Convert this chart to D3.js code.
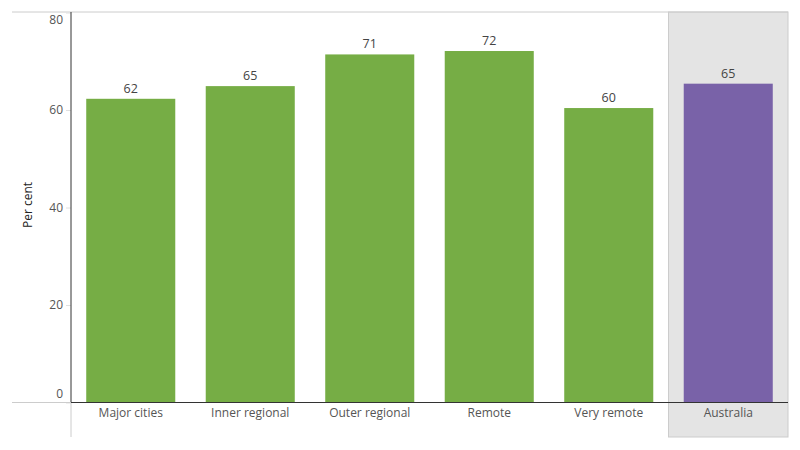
<!DOCTYPE html>
<html><head><meta charset="utf-8">
<script src="https://cdn.jsdelivr.net/npm/d3@7"></script>
<style>body{margin:0;background:#fff;}svg{display:block;font-family:"Open Sans","DejaVu Sans",sans-serif;}</style>
</head><body><svg id="c" width="800" height="450"></svg>
<script>
const categories = ["Major cities","Inner regional","Outer regional","Remote","Very remote","Australia"];
const values = [62.3, 64.9, 71.4, 72.1, 60.4, 65.4];
const yTicks = [0, 20, 40, 60, 80];
const colors = ["#76ad45","#76ad45","#76ad45","#76ad45","#76ad45","#7962a8"];

const svg = d3.select("#c");
const mLeft = 71, mRight = 788, mTop = 12.5, mBottom = 402.5;
const x = d3.scaleBand().domain(categories).range([mLeft, mRight]).paddingInner(0.255).paddingOuter(0.1275);
const y = d3.scaleLinear().domain([0, 80]).range([mBottom, mTop]);
const step = x.step();

// Australia panel background
const ausX = mLeft + step * 5;
svg.append("rect").attr("x", ausX).attr("y", 12).attr("width", mRight - ausX).attr("height", 437 - 12)
  .attr("fill", "#e4e4e4").attr("stroke", "#cccccc").attr("stroke-width", 1);

// top border
svg.append("line").attr("x1", 12).attr("x2", mRight).attr("y1", 12).attr("y2", 12).attr("stroke", "#cccccc");

// bars
svg.selectAll("rect.bar").data(categories).join("rect").attr("class","bar")
  .attr("x", d => x(d)).attr("width", x.bandwidth())
  .attr("y", (d,i) => y(values[i])).attr("height", (d,i) => y(0) - y(values[i]))
  .attr("fill", (d,i) => colors[i]);

// data labels
svg.selectAll("text.lab").data(categories).join("text").attr("class","lab")
  .attr("x", d => x(d) + x.bandwidth()/2).attr("y", (d,i) => y(values[i]) - 6)
  .attr("text-anchor","middle").attr("font-size", 12.5).attr("fill", "#444")
  .text((d,i) => Math.round(values[i]));

// y axis
const yAxis = d3.axisLeft(y).tickValues(yTicks).tickSize(5).tickPadding(3);
const gy = svg.append("g").attr("transform", `translate(${mLeft},0)`).call(yAxis);
gy.select(".domain").remove();
gy.selectAll(".tick line").attr("stroke", "#e0e0e0");
gy.selectAll(".tick text").attr("font-size", 12).attr("fill", "#555")
  .attr("font-family", "'Open Sans','DejaVu Sans',sans-serif")
  .attr("dy", d => d === 80 ? "0.9em" : d === 0 ? "-0.4em" : "0.32em");

// axis lines
svg.append("line").attr("x1", mLeft).attr("x2", mLeft).attr("y1", 12).attr("y2", mBottom).attr("stroke", "#333");
svg.append("line").attr("x1", mLeft).attr("x2", mLeft).attr("y1", mBottom).attr("y2", 437).attr("stroke", "#cccccc");
svg.append("line").attr("x1", 12).attr("x2", mLeft).attr("y1", mBottom).attr("y2", mBottom).attr("stroke", "#cccccc");
svg.append("line").attr("x1", mLeft).attr("x2", mRight).attr("y1", mBottom).attr("y2", mBottom).attr("stroke", "#333");

// x axis labels
const xAxis = d3.axisBottom(x).tickSize(0).tickPadding(6);
const gx = svg.append("g").attr("transform", `translate(0,${mBottom})`).call(xAxis);
gx.select(".domain").remove();
gx.selectAll(".tick text").attr("font-size", 12).attr("fill", "#555")
  .attr("font-family", "'Open Sans','DejaVu Sans',sans-serif");

// y label
svg.append("text").attr("transform", "translate(32,205) rotate(-90)")
  .attr("text-anchor","middle").attr("font-size", 12).attr("fill", "#222")
  .text("Per cent");
</script></body></html>
